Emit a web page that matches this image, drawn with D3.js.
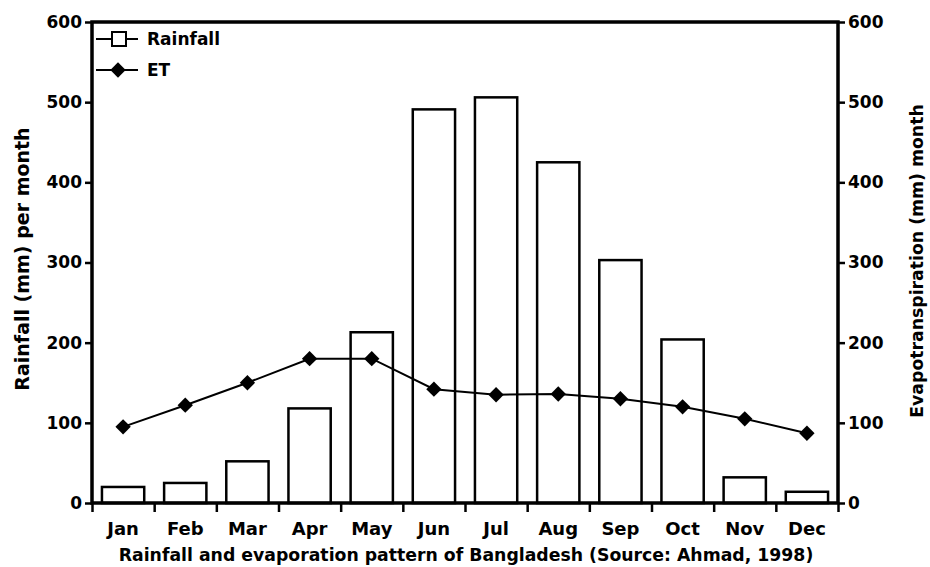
<!DOCTYPE html>
<html>
<head>
<meta charset="utf-8">
<script src="https://cdn.jsdelivr.net/npm/d3@7"></script>
<style>
  body { margin: 0; background: #fff; }
  text { font-family: "DejaVu Sans", sans-serif; font-weight: bold; fill: #000; }
  .axis path, .axis line { stroke: #000; }
</style>
</head>
<body>
<div id="chart"></div>
<script>
var months = ["Jan", "Feb", "Mar", "Apr", "May", "Jun", "Jul", "Aug", "Sep", "Oct", "Nov", "Dec"];
var rainfall = [20, 25, 52, 118, 213, 491, 506, 425, 303, 204, 32, 14];
var et = [95, 122, 150, 180, 180, 142, 135, 136, 130, 120, 105, 87];
var yTicks = [0, 100, 200, 300, 400, 500, 600];

var w = 930;
var h = 567;
var padL = 92, padR = 838, padT = 22, padB = 503;

var svg = d3.select("#chart")
  .append("svg")
  .attr("width", w)
  .attr("height", h);

var xScale = d3.scaleBand()
  .domain(months)
  .range([padL, padR])
  .paddingInner(0.32)
  .paddingOuter(0.16);

// boundaries between months, for the tick marks
var xEdge = d3.scaleLinear()
  .domain([0, months.length])
  .range([padL, padR]);

var yScale = d3.scaleLinear()
  .domain([0, 600])
  .range([padB, padT]);

var yRight = d3.scaleLinear()
  .domain([0, 600])
  .range([padB, padT]);

// bars
svg.selectAll("rect.bar")
  .data(rainfall)
  .enter()
  .append("rect")
  .attr("class", "bar")
  .attr("x", function(d, i) { return xScale(months[i]); })
  .attr("y", function(d) { return yScale(d); })
  .attr("width", xScale.bandwidth())
  .attr("height", function(d) { return yScale(0) - yScale(d); })
  .attr("fill", "#fff")
  .attr("stroke", "#000")
  .attr("stroke-width", 2.5);

// ET line
var line = d3.line()
  .x(function(d, i) { return xScale(months[i]) + xScale.bandwidth() / 2; })
  .y(function(d) { return yRight(d); });

svg.append("path")
  .datum(et)
  .attr("d", line)
  .attr("fill", "none")
  .attr("stroke", "#000")
  .attr("stroke-width", 2);

var diamond = d3.symbol().type(d3.symbolDiamond2).size(150);

svg.selectAll("path.et")
  .data(et)
  .enter()
  .append("path")
  .attr("class", "et")
  .attr("d", diamond)
  .attr("transform", function(d, i) {
    return "translate(" + (xScale(months[i]) + xScale.bandwidth() / 2) + "," + yRight(d) + ")";
  })
  .attr("fill", "#000");

// axes
var yAxis = d3.axisLeft(yScale).tickValues(yTicks).tickSize(7).tickPadding(3);
var gy = svg.append("g")
  .attr("class", "axis")
  .attr("transform", "translate(" + padL + ",0)")
  .call(yAxis);

var yAxisR = d3.axisRight(yRight).tickValues(yTicks).tickSize(7).tickPadding(3);
var gr = svg.append("g")
  .attr("class", "axis")
  .attr("transform", "translate(" + padR + ",0)")
  .call(yAxisR);

var xAxis = d3.axisBottom(xEdge).tickValues(d3.range(months.length + 1)).tickSize(9).tickFormat("");
var gx = svg.append("g")
  .attr("class", "axis")
  .attr("transform", "translate(0," + padB + ")")
  .call(xAxis);

var xLabels = d3.axisBottom(xScale).tickSize(0).tickPadding(19);
var gl = svg.append("g")
  .attr("class", "axis labels")
  .attr("transform", "translate(0," + padB + ")")
  .call(xLabels);
gl.select(".domain").remove();

[gy, gr, gx].forEach(function(g) {
  g.select(".domain").remove();
  g.selectAll(".tick line").attr("stroke-width", 2.5);
});
svg.selectAll(".axis text").style("font-size", "17px").style("font-family", "DejaVu Sans").style("font-weight", "bold");
gl.selectAll("text").style("font-size", "18px");

// axis lines drawn as a frame (left, right, bottom, top)
svg.append("path")
  .attr("d", "M" + padL + "," + yScale(0) + "V" + yScale(600) + "H" + padR + "V" + yScale(0) + "Z")
  .attr("fill", "none")
  .attr("stroke", "#000")
  .attr("stroke-width", 3.5);

// titles
svg.append("text")
  .attr("transform", "translate(29,259) rotate(-90)")
  .attr("text-anchor", "middle")
  .style("font-size", "19px")
  .text("Rainfall (mm) per month");

svg.append("text")
  .attr("transform", "translate(923,261) rotate(-90)")
  .attr("text-anchor", "middle")
  .style("font-size", "17.3px")
  .text("Evapotranspiration (mm) month");

svg.append("text")
  .attr("x", (padL + padR) / 2 + 1)
  .attr("y", 561)
  .attr("text-anchor", "middle")
  .style("font-size", "17.3px")
  .text("Rainfall and evaporation pattern of Bangladesh (Source: Ahmad, 1998)");

// legend
var legend = svg.append("g").attr("transform", "translate(" + (padL + 4) + ",0)");
legend.append("line")
  .attr("x1", 0).attr("x2", 42).attr("y1", 39).attr("y2", 39)
  .attr("stroke", "#000").attr("stroke-width", 2);
legend.append("rect")
  .attr("x", 16).attr("y", 32).attr("width", 14).attr("height", 14)
  .attr("fill", "#fff").attr("stroke", "#000").attr("stroke-width", 2);
legend.append("text")
  .attr("x", 51).attr("y", 45)
  .style("font-size", "17px")
  .text("Rainfall");
legend.append("line")
  .attr("x1", 0).attr("x2", 42).attr("y1", 70).attr("y2", 70)
  .attr("stroke", "#000").attr("stroke-width", 2);
legend.append("path")
  .attr("d", diamond)
  .attr("transform", "translate(22,70)")
  .attr("fill", "#000");
legend.append("text")
  .attr("x", 51).attr("y", 76)
  .style("font-size", "17px")
  .text("ET");
</script>
</body>
</html>
